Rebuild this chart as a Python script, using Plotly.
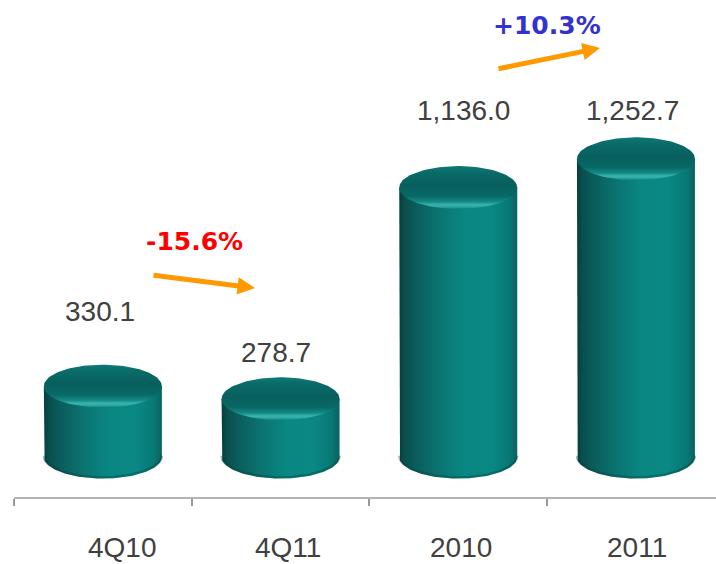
import numpy as np
import plotly.graph_objects as go

# ---- data ----
categories = ["4Q10", "4Q11", "2010", "2011"]
values = [330.1, 278.7, 1136.0, 1252.7]
value_text = ["330.1", "278.7", "1,136.0", "1,252.7"]
change_text = ["-15.6%", "+10.3%"]

# ---- canvas / scale setup ----
W, H = 716, 564
M_L, M_B = 14, 67
plot_w, plot_h = W - M_L, H - M_B
PX_PER_CAT = 177.7          # horizontal pixels per category slot
PX_PER_UNIT = 0.2464        # vertical pixels per value unit
ZERO_ROW = 467.5            # pixel row (from top) of value 0

x_lo = -0.5
x_hi = x_lo + plot_w / PX_PER_CAT
y_lo = -(plot_h - ZERO_ROW) / PX_PER_UNIT
y_hi = ZERO_ROW / PX_PER_UNIT


def at_x(px):
    return x_lo + (px - M_L) / PX_PER_CAT


def at_y(py):
    return (ZERO_ROW - py) / PX_PER_UNIT


def paper_y(py):
    return (plot_h - py) / plot_h


# cylinder geometry (in axis units)
rx = 59 / PX_PER_CAT
ry = 21.5 / PX_PER_UNIT
floor = 10.5 / PX_PER_UNIT   # cylinders stand on a slightly raised floor

body_scale = [
    [0.00, "#053f3f"],
    [0.05, "#09504f"],
    [0.15, "#0a5e5c"],
    [0.35, "#0b7572"],
    [0.55, "#0a8783"],
    [0.78, "#0a8884"],
    [0.93, "#087875"],
    [1.00, "#0a6260"],
]
cap_scale = [
    [0.00, "#0c7c78"],
    [0.05, "#2aa59f"],
    [0.10, "#3ab4ae"],
    [0.17, "#148a85"],
    [0.30, "#086966"],
    [0.55, "#075f5d"],
    [0.85, "#0a6b68"],
    [1.00, "#0e7a76"],
]

fig = go.Figure()

for i, v in enumerate(values):
    cx = i
    # side of the cylinder with its rounded front bottom edge
    t = np.linspace(np.pi, 2 * np.pi, 80)
    bx = cx + rx * np.cos(t)
    by = floor + ry * np.sin(t)
    xs = [cx - rx] + list(bx) + [cx + rx, cx - rx]
    ys = [v] + list(by) + [v, v]
    fig.add_trace(go.Scatter(
        x=xs, y=ys, mode="lines", fill="toself",
        line=dict(width=0, color="rgba(0,0,0,0)"),
        fillgradient=dict(type="horizontal", colorscale=body_scale,
                          start=cx - rx, stop=cx + rx),
        hoverinfo="skip", showlegend=False,
    ))
    # soft shadow along the bottom edge
    fig.add_trace(go.Scatter(
        x=bx, y=by + 1.2 / PX_PER_UNIT, mode="lines",
        line=dict(width=2.5, color="rgba(5,60,60,0.35)"),
        hoverinfo="skip", showlegend=False,
    ))
    # top cap
    tt = np.linspace(0, 2 * np.pi, 120)
    fig.add_trace(go.Scatter(
        x=cx + rx * np.cos(tt), y=v + ry * np.sin(tt),
        mode="lines", fill="toself",
        line=dict(width=0, color="rgba(0,0,0,0)"),
        fillgradient=dict(type="vertical", colorscale=cap_scale,
                          start=v - ry, stop=v + ry),
        hoverinfo="skip", showlegend=False,
    ))

annotations = []
label_font = dict(family="Liberation Sans, Arial, sans-serif", size=28, color="#404040")

# value labels
value_pos = [(100, 311), (276, 352), (463, 110), (632, 110)]
for txt, (px, py) in zip(value_text, value_pos):
    annotations.append(dict(
        x=at_x(px), y=at_y(py), xref="x", yref="y", text=txt,
        showarrow=False, xanchor="center", yanchor="middle", font=label_font,
    ))

# category labels along the bottom edge
cat_pos = [122, 288, 461, 637]
for txt, px in zip(categories, cat_pos):
    annotations.append(dict(
        x=at_x(px), y=paper_y(H), xref="x", yref="paper", text=txt,
        showarrow=False, xanchor="center", yanchor="bottom", font=label_font,
        borderpad=0,
    ))

# change callouts
annotations.append(dict(
    x=at_x(194), y=at_y(241), xref="x", yref="y", text="<b>%s</b>" % change_text[0],
    showarrow=False, xanchor="center", yanchor="middle",
    font=dict(family="DejaVu Sans, Verdana, sans-serif", size=25, color="#ff0000"),
))
annotations.append(dict(
    x=at_x(547), y=at_y(25), xref="x", yref="y", text="<b>%s</b>" % change_text[1],
    showarrow=False, xanchor="center", yanchor="middle",
    font=dict(family="DejaVu Sans, Verdana, sans-serif", size=25, color="#3333cc"),
))

# orange trend arrows (tip, tail)
arrows = [((255, 288), (152, 275)), ((600, 48), (497, 69))]
for (tx, ty), (sx, sy) in arrows:
    annotations.append(dict(
        x=at_x(tx), y=at_y(ty), xref="x", yref="y", text="",
        showarrow=True, ax=sx - tx, ay=sy - ty,
        arrowhead=2, arrowsize=0.7, arrowwidth=5, arrowcolor="#ff9900",
    ))

fig.update_layout(
    width=W, height=H,
    margin=dict(l=M_L, r=0, t=0, b=M_B),
    plot_bgcolor="white", paper_bgcolor="white",
    showlegend=False,
    annotations=annotations,
    xaxis=dict(
        range=[x_lo, x_hi], showgrid=False, zeroline=False,
        showline=True, linecolor="#b4b4b4", linewidth=2,
        tickvals=[-0.5, 0.5, 1.5, 2.5], ticktext=["", "", "", ""],
        ticks="outside", ticklen=7, tickwidth=1.5, tickcolor="#999999",
        fixedrange=True,
    ),
    yaxis=dict(range=[y_lo, y_hi], visible=False, fixedrange=True),
)

fig.write_html("out.html")
